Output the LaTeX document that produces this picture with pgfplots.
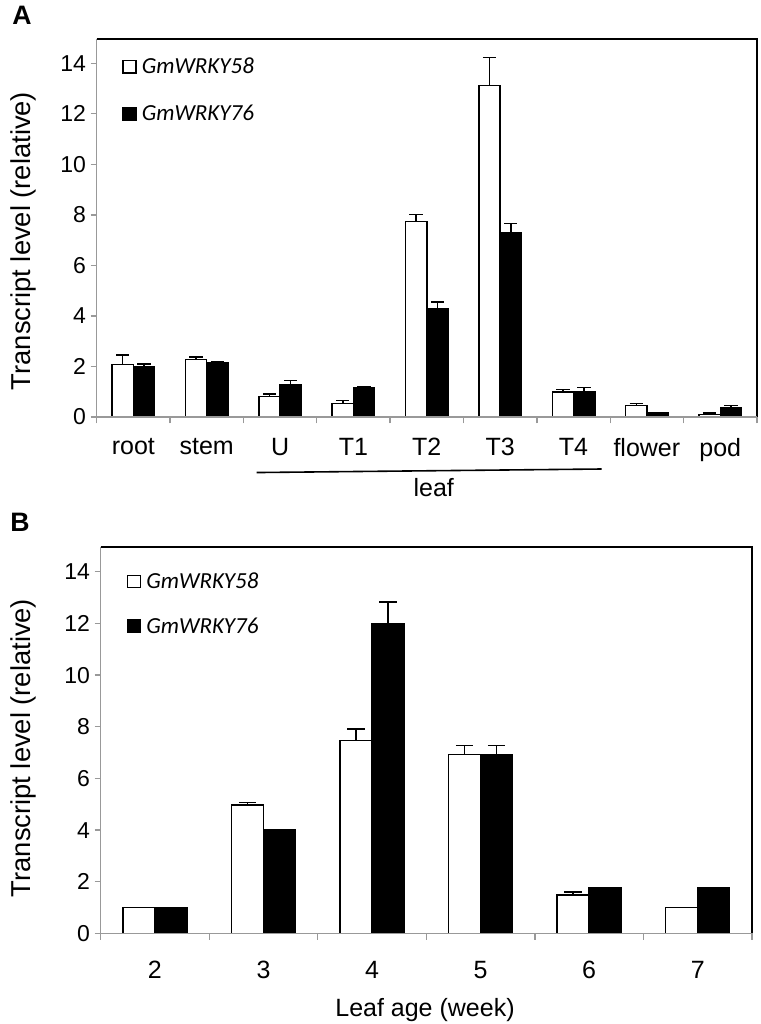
\documentclass[border=0pt]{standalone}
\usepackage{fontspec}
\setmainfont{Liberation Sans}
\newfontfamily\carlito{Carlito}
\usepackage{pgfplots}
\pgfplotsset{compat=1.18}

\pgfplotsset{
  panel/.style={
    scale only axis,
    anchor=south west,
    ymin=0, ymax=14.95,
    axis line style={draw=none},
    clip=false,
    ytick={0,2,...,14},
    tick pos=left, tick align=outside,
    major x tick style={draw=none},
    minor x tick style={draw=gray!80, line width=1pt},
    y tick style={draw=gray!80, line width=1pt},
    major tick length=4.5pt, minor tick length=4.8pt,
    /pgf/number format/assume math mode=true,
    yticklabel style={font=\fontsize{17.25}{20}\selectfont},
    ybar,
    legend style={draw=none, fill=none, inner sep=0pt, outer sep=0pt,
      nodes={inner sep=0pt, outer sep=0pt},
      font=\carlito\itshape\fontsize{17.25}{20}\selectfont,
      column sep=3.75pt},
    legend cell align=left,
    legend image code/.code={\draw[#1, line width=1pt] (0pt,-4.7pt) rectangle (9.8pt,4.7pt);},
  },
  whitebar/.style={fill=white, draw=black, line width=1.1pt,
    error bars/y dir=plus, error bars/y explicit,
    error bars/error mark=|,
    error bars/error bar style={line width=1.1pt, black},
    error bars/error mark options={line width=1.1pt, black, mark size=#1}},
  blackbar/.style={fill=black, draw=black, line width=1.1pt,
    error bars/y dir=plus, error bars/y explicit,
    error bars/error mark=|,
    error bars/error bar style={line width=1.1pt, black},
    error bars/error mark options={line width=1.1pt, black, mark size=#1}},
}

\begin{document}
\begin{tikzpicture}
% ---------------- Panel A ----------------
\begin{axis}[panel,
  at={(72.5pt,-312.75pt)},
  width=495.2pt, height=283.3pt,
  xmin=-0.5, xmax=8.5,
  xtick={0,...,8},
  xticklabels={root,stem,U,T1,T2,T3,T4,flower,pod},
  xticklabel style={font=\fontsize{18.75}{22}\selectfont, yshift=-8pt},
  minor xtick={-0.5,0.5,...,8.5},
  bar width=0.29,
  legend style={at={(rel axis cs:0,1)}, anchor=north west, xshift=19.3pt, yshift=-14pt, row sep=22pt},
]
\addplot[bar shift=-0.145, whitebar=5pt] table[x=x, y=y, y error=e] {
x y e
0 2.07 0.39
1 2.27 0.10
2 0.82 0.09
3 0.53 0.12
4 7.73 0.29
5 13.11 1.11
6 0.99 0.09
7 0.45 0.09
8 0.09 0.07
};
\addlegendentry{GmWRKY58}
\addplot[bar shift=0.145, blackbar=5pt] table[x=x, y=y, y error=e] {
x y e
0 2.00 0.09
1 2.15 0.05
2 1.28 0.17
3 1.17 0.02
4 4.27 0.28
5 7.30 0.35
6 0.99 0.18
7 0.16 0.02
8 0.38 0.08
};
\addlegendentry{GmWRKY76}
\draw[black, line width=1.5pt] (rel axis cs:0,1) -- (rel axis cs:1,1) -- (rel axis cs:1,0);
\draw[gray!80, line width=1.1pt] (rel axis cs:0,1) -- (rel axis cs:0,0) -- (rel axis cs:1,0);
\end{axis}

% ---------------- Panel B ----------------
\begin{axis}[panel,
  at={(75.5pt,-700.1pt)},
  width=488.5pt, height=289.65pt,
  xmin=-0.5, xmax=5.5,
  xtick={0,...,5},
  xticklabels={2,3,4,5,6,7},
  xticklabel style={font=\fontsize{18.75}{22}\selectfont, yshift=-12.5pt},
  minor xtick={-0.5,0.5,...,5.5},
  bar width=0.295,
  legend style={at={(rel axis cs:0,1)}, anchor=north west, xshift=19.7pt, yshift=-19pt, row sep=20.5pt},
]
\addplot[bar shift=-0.1475, whitebar=6.5pt] table[x=x, y=y, y error=e] {
x y e
0 1.00 0.00
1 4.97 0.11
2 7.46 0.46
3 6.92 0.35
4 1.49 0.12
5 1.00 0.00
};
\addlegendentry{GmWRKY58}
\addplot[bar shift=0.1475, blackbar=6.5pt] table[x=x, y=y, y error=e] {
x y e
0 1.00 0.00
1 4.00 0.00
2 12.00 0.84
3 6.92 0.35
4 1.78 0.00
5 1.78 0.00
};
\addlegendentry{GmWRKY76}
\draw[black, line width=1.5pt] (rel axis cs:0,1) -- (rel axis cs:1,1) -- (rel axis cs:1,0);
\draw[gray!80, line width=1.1pt] (rel axis cs:0,1) -- (rel axis cs:0,0) -- (rel axis cs:1,0);
\end{axis}

% ---------------- Annotations ----------------
\node[font=\bfseries\fontsize{20}{24}\selectfont] at (16.5pt,-11.25pt) {A};
\node[font=\bfseries\fontsize{20}{24}\selectfont] at (15pt,-391.5pt) {B};
\node[rotate=90, font=\fontsize{20.5}{24}\selectfont] at (17.25pt,-180.75pt) {Transcript level (relative)};
\node[rotate=90, font=\fontsize{20.5}{24}\selectfont] at (17.25pt,-561pt) {Transcript level (relative)};
\draw[black, line width=1.2pt] (192.5pt,-354.4pt) -- (451.3pt,-351.75pt);
\node[anchor=base, font=\fontsize{18.75}{22}\selectfont] at (325.3pt,-372.5pt) {leaf};
\node[anchor=base, font=\fontsize{18.75}{22}\selectfont] at (318.75pt,-762.5pt) {Leaf age (week)};

\pgfresetboundingbox
\path (0pt,0pt) rectangle (570pt,-768pt);
\end{tikzpicture}
\end{document}
